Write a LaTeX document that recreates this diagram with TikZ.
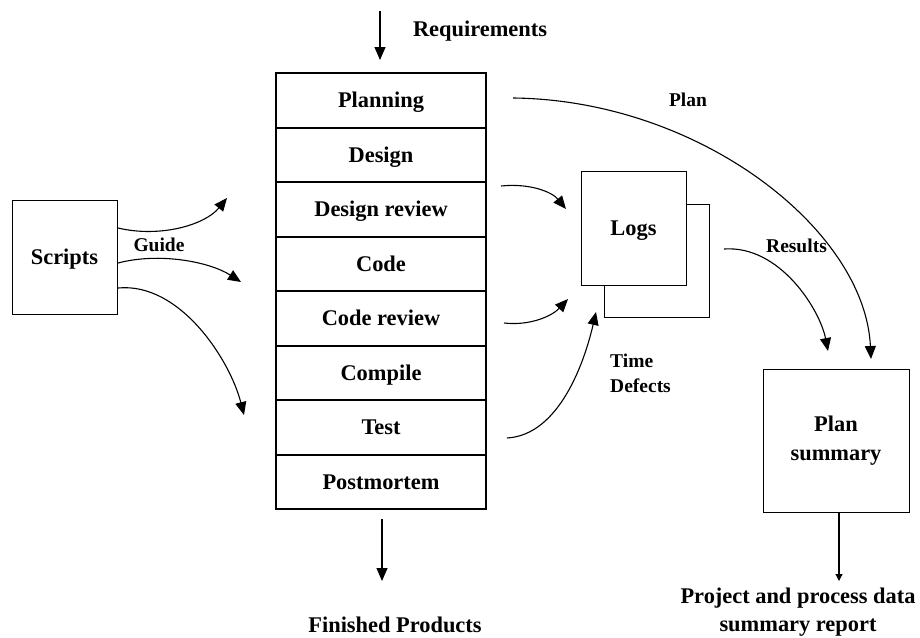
\documentclass[tikz,border=0pt]{standalone}
\usepackage{fontspec}
\setmainfont{Liberation Serif}
\usetikzlibrary{arrows.meta}
\begin{document}
\begin{tikzpicture}[x=1pt,y=-1pt,
  big/.style={font=\fontsize{22.4}{28}\selectfont\bfseries, text height=14.8pt, text depth=0pt, inner sep=0pt},
  small/.style={font=\fontsize{19.5}{25}\selectfont\bfseries, text height=12.9pt, text depth=0pt, inner sep=0pt},
  stage/.style={big, draw, line width=2pt, minimum width=210pt, minimum height=54.5pt},
  box/.style={draw, line width=1pt, inner sep=0pt},
  arr/.style={line width=1.1pt, -{Triangle[length=13pt,width=11pt]}},
  smallarr/.style={line width=1.1pt, -{Triangle[length=7pt,width=7pt]}}
  ]
\useasboundingbox (0,0) rectangle (920,637);

% stack of phases
\node[stage] (planning) at (381,100.25) {Planning};
\node[stage] (design)   at (381,154.75) {Design};
\node[stage] (dreview)  at (381,209.25) {Design review};
\node[stage] (code)     at (381,263.75) {Code};
\node[stage] (creview)  at (381,318.25) {Code review};
\node[stage] (compile)  at (381,372.75) {Compile};
\node[stage] (test)     at (381,427.25) {Test};
\node[stage] (post)     at (381,481.75) {Postmortem};

% other boxes
\node[box, big, minimum width=105pt, minimum height=114pt] (scripts) at (64.5,257) {Scripts};
\node[box, minimum width=105pt, minimum height=113pt] (logsback) at (656.5,260.5) {};
\node[box, big, fill=white, minimum width=105pt, minimum height=114pt] (logs) at (633.5,228) {Logs};
\node[box, font=\fontsize{22.4}{29}\selectfont\bfseries, align=center, minimum width=146pt, minimum height=143pt] (summary) at (836,440.5) {Plan\\summary};

% texts
\node[big] (req) at (480,28.6) {Requirements};
\node[big] (fin) at (395,625.4) {Finished Products};
\node[font=\fontsize{22.4}{28}\selectfont\bfseries, align=center, inner sep=0pt] (report) at (798,612.3) {Project and process data\\summary report};
\node[small] (guide) at (159,245.2) {Guide};
\node[small] (planlbl) at (688,100.5) {Plan};
\node[small] (results) at (796.5,246.5) {Results};
\node[font=\fontsize{19.5}{25}\selectfont\bfseries, align=left, inner sep=0pt, anchor=north west] (timedef) at (610,353.5) {Time\\Defects};

% coordinates
\coordinate (reqs) at (380,11);
\coordinate (reqe) at (380,60);
\coordinate (fins) at (382,519);
\coordinate (fine) at (382,581);
\coordinate (reps) at (839,512);
\coordinate (repe) at (839,581);
\coordinate (s1s) at (118,228);  \coordinate (s1e) at (227,198);
\coordinate (s2s) at (118,263);  \coordinate (s2e) at (241,282);
\coordinate (s3s) at (118,288);  \coordinate (s3e) at (244,415);
\coordinate (l1s) at (501,186);  \coordinate (l1e) at (566,209);
\coordinate (l2s) at (504,323);  \coordinate (l2e) at (568,299);
\coordinate (l3s) at (507,438);  \coordinate (l3e) at (596,312);
\coordinate (ps) at (513,98);    \coordinate (pe) at (871,359);
\coordinate (rs) at (724,249);   \coordinate (re) at (828,351);

% connectors
\draw[arr] (reqs) -- (reqe);
\draw[arr] (fins) -- (fine);
\draw[smallarr] (reps) -- (repe);
\draw[arr] (s1s) .. controls (160,238) and (205,225) .. (s1e);
\draw[arr] (s2s) .. controls (160,252) and (210,262) .. (s2e);
\draw[arr] (s3s) .. controls (180,282) and (230,360) .. (s3e);
\draw[arr] (l1s) .. controls (530,183) and (552,192) .. (l1e);
\draw[arr] (l2s) .. controls (530,326) and (552,316) .. (l2e);
\draw[arr] (l3s) .. controls (560,435) and (585,360) .. (l3e);
\draw[arr] (ps) .. controls (700,100) and (865,230) .. (pe);
\draw[arr] (rs) .. controls (780,245) and (820,310) .. (re);
\end{tikzpicture}
\end{document}
